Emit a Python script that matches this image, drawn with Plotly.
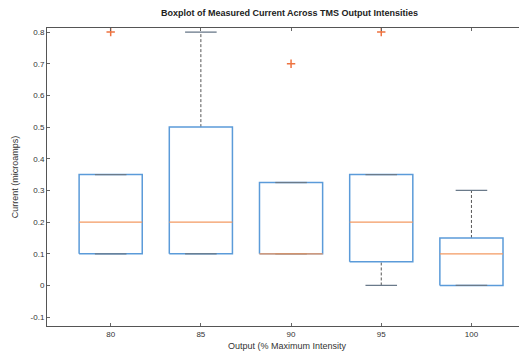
import plotly.graph_objects as go

categories = ["80", "85", "90", "95", "100"]
q1 = [0.10, 0.10, 0.10, 0.075, 0.0]
median = [0.20, 0.20, 0.10, 0.20, 0.10]
q3 = [0.35, 0.50, 0.325, 0.35, 0.15]
lower_whisker = [0.10, 0.10, 0.10, 0.0, 0.0]
upper_whisker = [0.35, 0.80, 0.325, 0.35, 0.30]
outlier_pos = [1, 3, 4]
outlier_vals = [0.80, 0.70, 0.80]

pos = list(range(1, len(categories) + 1))
BW = 0.35   # half box width
CW = 0.175  # half cap width
BOX_C = "#5B9BD9"
MED_C = "#F39A62"
WH_C = "#555555"
FONT = "Liberation Sans, Arial, sans-serif"

fig = go.Figure()

wx, wy, cx, cy = [], [], [], []
for p, lo, hi, a, b in zip(pos, lower_whisker, upper_whisker, q1, q3):
    if hi > b:
        wx += [p, p, None]; wy += [b, hi, None]
    if lo < a:
        wx += [p, p, None]; wy += [lo, a, None]
    cx += [p - CW, p + CW, None, p - CW, p + CW, None]
    cy += [hi, hi, None, lo, lo, None]
fig.add_trace(go.Scatter(x=wx, y=wy, mode="lines", line=dict(color=WH_C, width=1, dash="3px,2px"), hoverinfo="skip"))

bx, by = [], []
for p, a, b in zip(pos, q1, q3):
    bx += [p - BW, p + BW, p + BW, p - BW, p - BW, None]
    by += [a, a, b, b, a, None]
fig.add_trace(go.Scatter(x=bx, y=by, mode="lines", line=dict(color=BOX_C, width=1.5), hoverinfo="skip"))

fig.add_trace(go.Scatter(x=cx, y=cy, mode="lines", line=dict(color="#6a7a8a", width=1.3), hoverinfo="skip"))

mx, my = [], []
for p, m in zip(pos, median):
    mx += [p - BW, p + BW, None]
    my += [m, m, None]
fig.add_trace(go.Scatter(x=mx, y=my, mode="lines", line=dict(color=MED_C, width=1.3), hoverinfo="skip"))

fig.add_trace(go.Scatter(x=outlier_pos, y=outlier_vals, mode="markers",
                         marker=dict(symbol="cross-thin", size=6, line=dict(color="#EE7340", width=1.5)),
                         hoverinfo="skip"))

axis_common = dict(showline=True, linecolor="#555555", linewidth=1, mirror="ticks", automargin=False,
                   ticks="inside", ticklen=3, tickcolor="#666666", showgrid=False, zeroline=False,
                   tickfont=dict(family=FONT, size=8, color="#333333"))

W, H = 519, 350
fig.update_layout(
    width=W, height=H,
    margin=dict(l=39, r=0, t=20, b=32, autoexpand=False),
    paper_bgcolor="white", plot_bgcolor="white",
    showlegend=False,
    title=dict(text="<b>Boxplot of Measured Current Across TMS Output Intensities</b>",
               x=281.5 / W, xanchor="center", xref="container",
               y=1 - 5 / H, yanchor="middle", yref="container", automargin=False,
               font=dict(family=FONT, size=9, color="#222222")),
    xaxis=dict(range=[0.294, 5.616], tickmode="array", tickvals=pos, ticktext=categories,
               title=dict(text="Output (% Maximum Intensity", standoff=5,
                          font=dict(family=FONT, size=9, color="#333333")),
               **axis_common),
    yaxis=dict(range=[-0.128, 0.813], tickmode="array",
               tickvals=[-0.1, 0, 0.1, 0.2, 0.3, 0.4, 0.5, 0.6, 0.7, 0.8],
               ticktext=["-0.1", "0", "0.1", "0.2", "0.3", "0.4", "0.5", "0.6", "0.7", "0.8"],
               title=dict(text="Current (microamps)", standoff=10,
                          font=dict(family=FONT, size=9, color="#333333")),
               **axis_common),
)

fig.write_html("out.html")
